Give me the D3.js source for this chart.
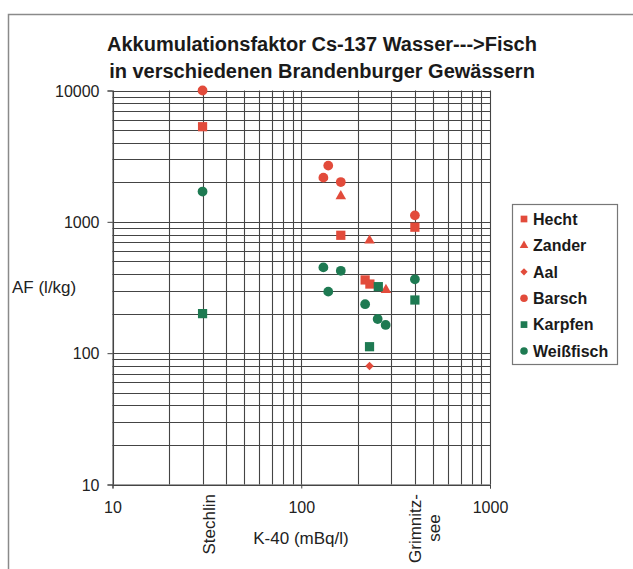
<!DOCTYPE html>
<html>
<head>
<meta charset="utf-8">
<script src="https://cdn.jsdelivr.net/npm/d3@7"></script>
<style>
  html, body { margin: 0; padding: 0; background: #fff; }
  svg { display: block; font-family: "Liberation Sans", Arial, Helvetica, sans-serif; }
</style>
</head>
<body>
<svg id="chart" width="633" height="569"></svg>
<script>
// ---- data (K-40 in mBq/l, AF in l/kg) ----
const titleLines = ["Akkumulationsfaktor Cs-137 Wasser--->Fisch", "in verschiedenen Brandenburger Gewässern"];
const xTickValues = [10, 100, 1000];
const yTickValues = [10, 100, 1000, 10000];
const seriesNames = ["Hecht", "Zander", "Aal", "Barsch", "Karpfen", "Weißfisch"];
const hecht     = [[30, 5300], [162, 790], [218, 361], [231, 336], [400, 910]];
const zander    = [[162, 1570], [230, 720], [281, 303]];
const aal       = [[230, 80]];
const barsch    = [[30, 10000], [131, 2170], [139, 2680], [162, 2010], [400, 1120]];
const karpfen   = [[30, 200], [256, 321], [230, 112], [400, 254]];
const weissfisch = [[30, 1700], [131, 450], [162, 424], [139, 294], [218, 236], [254, 182], [280, 164], [400, 365]];
const lakeLabels = [{ k40: 30, lines: ["Stechlin"] }, { k40: 400, lines: ["Grimnitz-", "see"] }];

const seriesData = [hecht, zander, aal, barsch, karpfen, weissfisch];
const red = "#e24b3b", green = "#1e7a52";
const seriesColor = [red, red, red, red, green, green];
// compact diamond (square rotated 45°)
const symbolRhomb = { draw(ctx, size) { const r = Math.sqrt(size / 2); ctx.moveTo(0, -r); ctx.lineTo(r, 0); ctx.lineTo(0, r); ctx.lineTo(-r, 0); ctx.closePath(); } };
const seriesSymbol = [d3.symbolSquare, d3.symbolTriangle, symbolRhomb, d3.symbolCircle, d3.symbolSquare, d3.symbolCircle];
const seriesSize = [85, 48, 36, 75, 85, 75];
const legendSize = [45, 32, 26, 45, 45, 45];

const svg = d3.select("#chart");

// frame
svg.append("path").attr("d", "M8.5,569 L8.5,14.5 L633,14.5")
  .attr("fill", "none").attr("stroke", "#8a8a8a").attr("stroke-width", 1.5);

const x = d3.scaleLog().domain([10, 1000]).range([112.5, 490]);
const y = d3.scaleLog().domain([10, 10000]).range([484.5, 90.5]);

// grid
const xGrid = [];
for (let d = 10; d < 1000; d *= 10) for (let k = 1; k <= 10; k++) if (!(k === 1 && d > 10)) xGrid.push(k * d);
const yGrid = [];
for (let d = 10; d < 10000; d *= 10) for (let k = 1; k <= 10; k++) if (!(k === 1 && d > 10)) yGrid.push(k * d);

const grid = svg.append("g").attr("stroke", "#444").attr("stroke-width", 1.1);
grid.selectAll("line.v").data(xGrid).join("line").attr("class", "v")
  .attr("x1", d => Math.round(x(d)) + 0.5).attr("x2", d => Math.round(x(d)) + 0.5)
  .attr("y1", y(10000)).attr("y2", y(10));
grid.selectAll("line.h").data(yGrid).join("line").attr("class", "h")
  .attr("y1", d => Math.round(y(d)) + 0.5).attr("y2", d => Math.round(y(d)) + 0.5)
  .attr("x1", x(10)).attr("x2", x(1000));

// axes
const xAxis = d3.axisBottom(x).tickValues(xTickValues).tickFormat(d3.format("d")).tickSize(4).tickPadding(13);
const yAxis = d3.axisLeft(y).tickValues(yTickValues).tickFormat(d3.format("d")).tickSize(5).tickPadding(8);
const gx = svg.append("g").attr("transform", `translate(0,${y(10)})`).call(xAxis);
const gy = svg.append("g").attr("transform", `translate(${x(10)},0)`).call(yAxis);
[gx, gy].forEach(g => {
  g.select(".domain").attr("stroke", "#444");
  g.selectAll(".tick line").attr("stroke", "#444");
  g.selectAll("text").attr("font-size", 16).attr("fill", "#222").attr("font-family", "Liberation Sans, Arial, sans-serif");
});
gy.selectAll("text").attr("dy", "0.35em");

// lake labels (rotated)
lakeLabels.forEach(l => {
  const cx = x(l.k40);
  if (l.lines.length === 1) {
    svg.append("text").attr("transform", `translate(${cx + 12},494) rotate(-90)`)
      .attr("text-anchor", "end").attr("font-size", 17).attr("fill", "#222").text(l.lines[0]);
  } else {
    svg.append("text").attr("transform", `translate(${cx + 6},494) rotate(-90)`)
      .attr("text-anchor", "end").attr("font-size", 17).attr("fill", "#222").text(l.lines[0]);
    svg.append("text").attr("transform", `translate(${cx + 25},528) rotate(-90)`)
      .attr("text-anchor", "middle").attr("font-size", 17).attr("fill", "#222").text(l.lines[1]);
  }
});

// axis titles
svg.append("text").attr("x", 301).attr("y", 544).attr("text-anchor", "middle")
  .attr("font-size", 17).attr("fill", "#222").text("K-40 (mBq/l)");
svg.append("text").attr("x", 12).attr("y", 293).attr("font-size", 17).attr("fill", "#222").text("AF (l/kg)");

// title
svg.append("text").attr("x", 322).attr("y", 51).attr("text-anchor", "middle")
  .attr("font-size", 20).attr("font-weight", "bold").attr("fill", "#1a1a1a").text(titleLines[0]);
svg.append("text").attr("x", 322).attr("y", 78).attr("text-anchor", "middle")
  .attr("font-size", 20).attr("font-weight", "bold").attr("fill", "#1a1a1a").text(titleLines[1]);

// points
seriesData.forEach((data, i) => {
  svg.append("g").selectAll("path").data(data).join("path")
    .attr("transform", d => `translate(${x(d[0])},${y(d[1])})`)
    .attr("d", d3.symbol().type(seriesSymbol[i]).size(seriesSize[i]))
    .attr("fill", seriesColor[i]);
});

// legend
const lg = svg.append("g");
lg.append("rect").attr("x", 512.5).attr("y", 204.5).attr("width", 105).attr("height", 160)
  .attr("fill", "#fff").attr("stroke", "#777").attr("stroke-width", 1.2);
seriesNames.forEach((name, i) => {
  const yy = 219 + i * 26.4;
  lg.append("path").attr("transform", `translate(524,${yy})`)
    .attr("d", d3.symbol().type(seriesSymbol[i]).size(legendSize[i])).attr("fill", seriesColor[i]);
  lg.append("text").attr("x", 533).attr("y", yy).attr("dy", "0.36em")
    .attr("font-size", 16).attr("font-weight", "bold").attr("fill", "#1a1a1a").text(name);
});
</script>
</body>
</html>
